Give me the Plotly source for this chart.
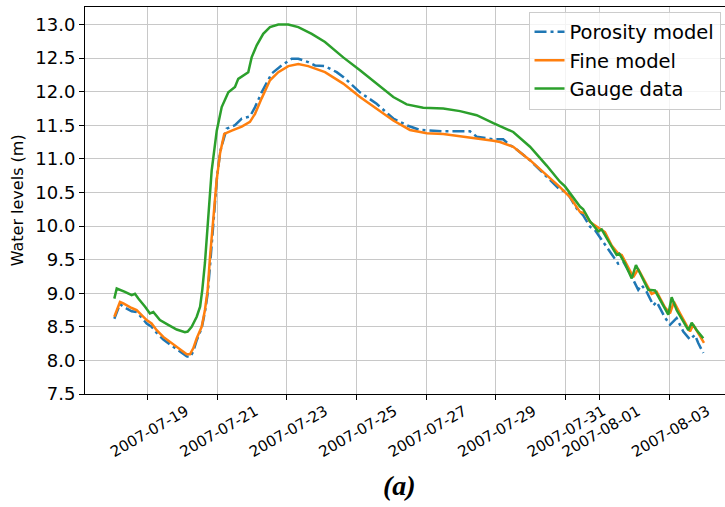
import plotly.graph_objects as go

FONT = 'DejaVu Sans'
COLORS = ['#1f77b4', '#ff7f0e', '#2ca02c']

porosity_time = [
    '2007-07-18 00:45', '2007-07-18 04:40', '2007-07-18 07:00', '2007-07-18 09:15', '2007-07-18 12:45',
    '2007-07-18 16:10', '2007-07-18 19:40', '2007-07-18 23:05', '2007-07-19 02:30', '2007-07-19 06:00',
    '2007-07-19 10:35', '2007-07-19 16:20', '2007-07-19 22:05', '2007-07-20 02:45', '2007-07-20 05:00',
    '2007-07-20 07:15', '2007-07-20 09:40', '2007-07-20 13:05', '2007-07-20 15:20', '2007-07-20 17:15',
    '2007-07-20 19:00', '2007-07-20 22:15', '2007-07-20 23:45', '2007-07-21 02:00', '2007-07-21 06:20',
    '2007-07-21 12:05', '2007-07-21 16:45', '2007-07-21 22:25', '2007-07-22 01:55', '2007-07-22 06:30',
    '2007-07-22 13:25', '2007-07-22 20:20', '2007-07-23 03:15', '2007-07-23 07:50', '2007-07-23 14:40',
    '2007-07-23 19:20', '2007-07-24 02:15', '2007-07-24 10:20', '2007-07-24 14:50', '2007-07-25 02:25',
    '2007-07-25 13:55', '2007-07-26 01:25', '2007-07-26 10:40', '2007-07-26 19:50', '2007-07-27 11:55',
    '2007-07-28 06:20', '2007-07-28 11:00', '2007-07-28 22:30', '2007-07-29 05:20', '2007-07-29 10:00',
    '2007-07-29 12:15', '2007-07-29 23:50', '2007-07-30 11:20', '2007-07-30 20:30', '2007-07-31 01:10',
    '2007-07-31 08:05', '2007-07-31 12:35', '2007-07-31 17:15', '2007-07-31 20:40', '2007-08-01 01:20',
    '2007-08-01 07:05', '2007-08-01 12:45', '2007-08-01 16:15', '2007-08-01 20:50', '2007-08-02 02:35',
    '2007-08-02 04:55', '2007-08-02 08:25', '2007-08-02 13:00', '2007-08-02 15:20', '2007-08-02 21:00',
    '2007-08-03 00:30', '2007-08-03 05:05', '2007-08-03 09:40', '2007-08-03 14:20', '2007-08-03 17:45',
    '2007-08-03 20:00', '2007-08-03 23:30',
]
porosity_level = [
    8.62, 8.84, 8.80, 8.77, 8.73,
    8.72, 8.64, 8.55, 8.50, 8.41,
    8.31, 8.22, 8.14, 8.06, 8.05,
    8.13, 8.30, 8.48, 8.72, 9.00,
    9.45, 10.29, 10.75, 11.12, 11.45,
    11.50, 11.60, 11.63, 11.77, 11.99,
    12.27, 12.39, 12.49, 12.49, 12.44,
    12.39, 12.38, 12.29, 12.22, 11.99,
    11.82, 11.60, 11.50, 11.43, 11.41,
    11.41, 11.33, 11.29, 11.29, 11.20,
    11.18, 10.98, 10.73, 10.54, 10.51,
    10.26, 10.16, 9.99, 9.94, 9.80,
    9.62, 9.44, 9.47, 9.30, 9.05,
    9.12, 9.02, 8.82, 8.87, 8.64,
    8.53, 8.63, 8.43, 8.31, 8.38,
    8.26, 8.11,
]

fine_time = [
    '2007-07-18 00:45', '2007-07-18 04:40', '2007-07-18 07:00', '2007-07-18 09:15', '2007-07-18 12:45',
    '2007-07-18 16:10', '2007-07-18 19:40', '2007-07-18 23:05', '2007-07-19 02:30', '2007-07-19 06:00',
    '2007-07-19 10:35', '2007-07-19 16:20', '2007-07-19 22:05', '2007-07-20 02:45', '2007-07-20 05:00',
    '2007-07-20 07:15', '2007-07-20 09:40', '2007-07-20 13:05', '2007-07-20 15:20', '2007-07-20 17:15',
    '2007-07-20 18:50', '2007-07-20 21:05', '2007-07-20 23:25', '2007-07-21 01:45', '2007-07-21 04:40',
    '2007-07-21 09:50', '2007-07-21 16:45', '2007-07-21 22:25', '2007-07-22 01:55', '2007-07-22 06:30',
    '2007-07-22 12:15', '2007-07-22 18:00', '2007-07-23 00:55', '2007-07-23 07:50', '2007-07-23 14:40',
    '2007-07-24 02:15', '2007-07-24 14:50', '2007-07-25 02:25', '2007-07-25 13:55', '2007-07-26 01:25',
    '2007-07-26 12:55', '2007-07-27 00:30', '2007-07-27 11:55', '2007-07-27 23:30', '2007-07-28 11:00',
    '2007-07-28 22:30', '2007-07-29 03:05', '2007-07-29 12:15', '2007-07-29 23:50', '2007-07-30 11:20',
    '2007-07-30 20:30', '2007-07-31 03:25', '2007-07-31 10:20', '2007-07-31 13:50', '2007-07-31 17:15',
    '2007-08-01 00:10', '2007-08-01 03:35', '2007-08-01 08:15', '2007-08-01 12:45', '2007-08-01 15:10',
    '2007-08-01 20:50', '2007-08-01 23:10', '2007-08-02 02:35', '2007-08-02 08:25', '2007-08-02 11:50',
    '2007-08-02 15:20', '2007-08-02 21:00', '2007-08-03 00:30', '2007-08-03 03:15', '2007-08-03 07:25',
    '2007-08-03 12:00', '2007-08-03 14:20', '2007-08-03 16:35', '2007-08-03 20:00', '2007-08-04 00:00',
]
fine_level = [
    8.65, 8.87, 8.85, 8.82, 8.78,
    8.75, 8.68, 8.60, 8.55, 8.45,
    8.35, 8.26, 8.17, 8.09, 8.09,
    8.18, 8.33, 8.50, 8.75, 9.05,
    9.54, 10.14, 10.68, 11.08, 11.37,
    11.42, 11.48, 11.55, 11.67, 11.90,
    12.17, 12.29, 12.38, 12.41, 12.38,
    12.29, 12.12, 11.92, 11.75, 11.57,
    11.43, 11.38, 11.37, 11.34, 11.30,
    11.27, 11.25, 11.18, 10.98, 10.76,
    10.58, 10.43, 10.21, 10.19, 10.06,
    9.96, 9.91, 9.71, 9.59, 9.57,
    9.34, 9.24, 9.36, 9.14, 8.99,
    9.02, 8.79, 8.70, 8.87, 8.70,
    8.53, 8.43, 8.53, 8.40, 8.26,
]

gauge_time = [
    '2007-07-18 00:45', '2007-07-18 02:25', '2007-07-18 08:05', '2007-07-18 12:45', '2007-07-18 15:00',
    '2007-07-18 17:20', '2007-07-18 22:00', '2007-07-19 01:20', '2007-07-19 03:40', '2007-07-19 08:15',
    '2007-07-19 14:00', '2007-07-19 19:50', '2007-07-20 01:30', '2007-07-20 03:25', '2007-07-20 06:10',
    '2007-07-20 09:40', '2007-07-20 12:00', '2007-07-20 13:30', '2007-07-20 15:20', '2007-07-20 17:40',
    '2007-07-20 20:00', '2007-07-20 23:30', '2007-07-21 02:55', '2007-07-21 07:30', '2007-07-21 12:05',
    '2007-07-21 14:20', '2007-07-21 19:00', '2007-07-21 21:15', '2007-07-21 23:35', '2007-07-22 03:05',
    '2007-07-22 07:35', '2007-07-22 12:15', '2007-07-22 18:00', '2007-07-23 00:55', '2007-07-23 07:50',
    '2007-07-23 17:05', '2007-07-24 02:15', '2007-07-24 14:50', '2007-07-25 02:25', '2007-07-25 13:55',
    '2007-07-26 01:25', '2007-07-26 10:40', '2007-07-26 22:05', '2007-07-27 11:55', '2007-07-27 23:30',
    '2007-07-28 11:00', '2007-07-28 22:30', '2007-07-29 12:15', '2007-07-29 23:50', '2007-07-30 11:20',
    '2007-07-30 20:30', '2007-07-31 00:00', '2007-07-31 04:35', '2007-07-31 10:20', '2007-07-31 12:35',
    '2007-07-31 17:15', '2007-07-31 23:00', '2007-08-01 01:20', '2007-08-01 05:55', '2007-08-01 11:40',
    '2007-08-01 13:30', '2007-08-01 17:25', '2007-08-01 22:05', '2007-08-02 01:00', '2007-08-02 03:45',
    '2007-08-02 09:30', '2007-08-02 14:10', '2007-08-02 19:25', '2007-08-02 23:20', '2007-08-03 01:40',
    '2007-08-03 05:05', '2007-08-03 09:40', '2007-08-03 13:10', '2007-08-03 15:30', '2007-08-03 19:00',
    '2007-08-03 23:30',
]
gauge_level = [
    8.92, 9.07, 9.02, 8.97, 8.99,
    8.92, 8.80, 8.70, 8.72, 8.60,
    8.53, 8.46, 8.42, 8.43, 8.50,
    8.65, 8.80, 9.05, 9.45, 10.14,
    10.83, 11.42, 11.77, 11.99, 12.07,
    12.19, 12.26, 12.29, 12.51, 12.69,
    12.86, 12.96, 13.00, 13.00, 12.96,
    12.86, 12.74, 12.51, 12.32, 12.12,
    11.92, 11.81, 11.76, 11.75, 11.71,
    11.65, 11.53, 11.40, 11.18, 10.90,
    10.66, 10.59, 10.46, 10.29, 10.25,
    10.07, 9.92, 9.95, 9.78, 9.57,
    9.59, 9.44, 9.22, 9.42, 9.30,
    9.05, 9.04, 8.82, 8.68, 8.94,
    8.75, 8.58, 8.45, 8.56, 8.45,
    8.33,
]

tick_dates = ['2007-07-19', '2007-07-21', '2007-07-23', '2007-07-25', '2007-07-27',
              '2007-07-29', '2007-07-31', '2007-08-01', '2007-08-03']
y_ticks = [7.5, 8.0, 8.5, 9.0, 9.5, 10.0, 10.5, 11.0, 11.5, 12.0, 12.5, 13.0]

fig = go.Figure()

fig.add_trace(go.Scatter(
    x=porosity_time, y=porosity_level, name='Porosity model', mode='lines',
    line=dict(color=COLORS[0], width=2.5, dash='12px,4px,3px,4px')
))
fig.add_trace(go.Scatter(
    x=fine_time, y=fine_level, name='Fine model', mode='lines',
    line=dict(color=COLORS[1], width=2.5)
))
fig.add_trace(go.Scatter(
    x=gauge_time, y=gauge_level, name='Gauge data', mode='lines',
    line=dict(color=COLORS[2], width=2.5)
))

fig.update_layout(
    width=725, height=507,
    margin=dict(l=85, r=0, t=7, b=113),
    paper_bgcolor='white', plot_bgcolor='white',
    font=dict(family=FONT, size=16, color='black'),
    legend=dict(
        x=0.693, y=0.988, xanchor='left', yanchor='top',
        bgcolor='rgba(255,255,255,0.8)', bordercolor='#cccccc', borderwidth=1,
        font=dict(size=19.5)
    ),
    xaxis=dict(
        range=['2007-07-17 04:30', '2007-08-04 14:30'],
        tickvals=tick_dates, ticktext=tick_dates, tickangle=-30,
        ticklabelshift=38, ticklabelstandoff=-3,
        tickfont=dict(size=15),
        showgrid=True, gridcolor='#c8c8c8', gridwidth=1,
        showline=True, linecolor='black', linewidth=1, mirror=True,
        ticks='outside', ticklen=5, tickcolor='black',
        zeroline=False, automargin=False
    ),
    yaxis=dict(
        range=[7.5, 13.26],
        tickvals=y_ticks, ticktext=['%.1f' % v for v in y_ticks],
        tickfont=dict(size=18),
        showgrid=True, gridcolor='#c8c8c8', gridwidth=1,
        showline=True, linecolor='black', linewidth=1,
        ticks='outside', ticklen=5, tickcolor='black',
        zeroline=False, automargin=False
    ),
    annotations=[
        dict(
            text='Water levels (m)', xref='paper', yref='paper',
            x=-0.105, y=0.5, xanchor='center', yanchor='middle', showarrow=False,
            textangle=-90, font=dict(size=16)
        ),
        dict(
            text='<b><i>(a)</i></b>', xref='paper', yref='paper',
            x=0.492, y=-0.236, xanchor='center', yanchor='middle', showarrow=False,
            font=dict(family='Liberation Serif', size=28)
        ),
    ]
)

# the page's default body margin would shift the figure by 8px
fig.write_html('out.html', config={'displayModeBar': False},
               post_script="document.body.style.margin='0px';")
